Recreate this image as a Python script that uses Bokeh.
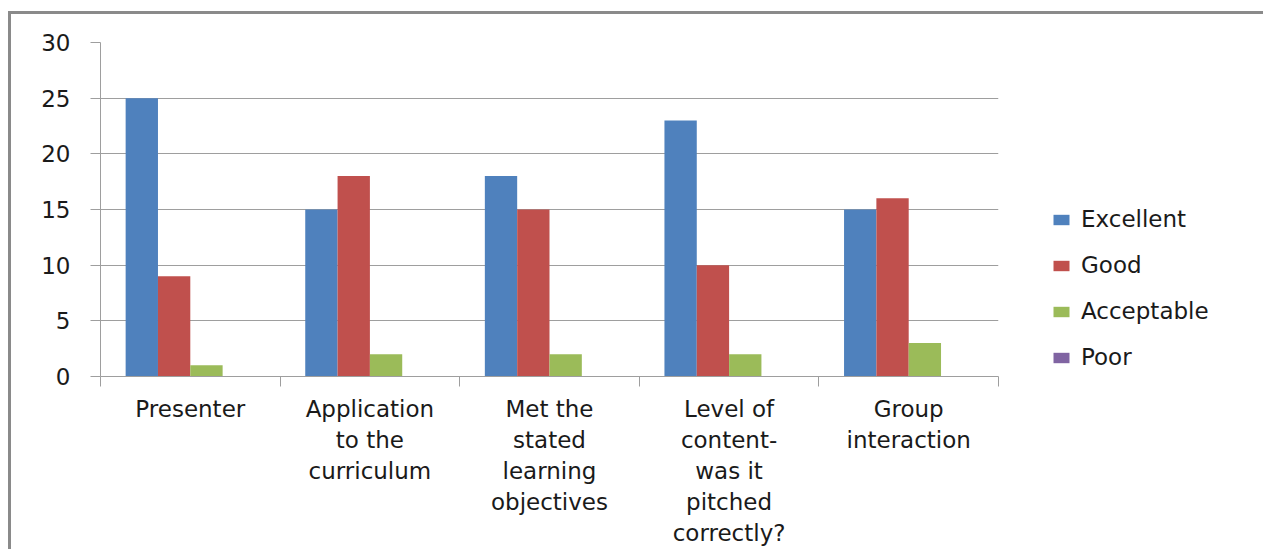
from bokeh.plotting import figure
from bokeh.models import Range1d, FixedTicker, Legend, LegendItem
from bokeh.embed import file_html
from bokeh.resources import INLINE
import numpy as np

# ---- data ----
categories = ["Presenter", "Application to the curriculum",
              "Met the stated learning objectives",
              "Level of content- was it pitched correctly?",
              "Group interaction"]
category_labels = ["Presenter", "Application\nto the\ncurriculum",
                   "Met the\nstated\nlearning\nobjectives",
                   "Level of\ncontent-\nwas it\npitched\ncorrectly?",
                   "Group\ninteraction"]
series_names = ["Excellent", "Good", "Acceptable", "Poor"]
excellent = [25, 15, 18, 23, 15]
good = [9, 18, 15, 10, 16]
acceptable = [1, 2, 2, 2, 3]
poor = [0, 0, 0, 0, 0]
y_ticks = [0, 5, 10, 15, 20, 25, 30]

series_values = [excellent, good, acceptable, poor]
colors = ["#4F81BD", "#C0504D", "#9BBB59", "#8064A2"]
offsets = [-0.27, -0.09, 0.09, 0.27]
bar_w = 0.18

FONT = "DejaVu Sans"
TXT = "#1a1a1a"
GRID = "#9e9e9e"

p = figure(frame_width=898, frame_height=334, output_backend="svg", toolbar_location=None,
           x_range=Range1d(0, len(categories)), y_range=Range1d(0, 30),
           min_border_left=89, min_border_top=28, min_border_bottom=0,
           min_border_right=0)
p.margin = (11, 0, 0, 8)
p.styles = {"border-top": "3px solid #8a8a8a", "border-left": "3px solid #8a8a8a"}
p.outline_line_color = None
p.background_fill_color = "white"
p.border_fill_color = "white"

centers = np.arange(len(categories)) + 0.5
items = []
for name, vals, col, off in zip(series_names, series_values, colors, offsets):
    r = p.vbar(x=centers + off, top=vals, bottom=0, width=bar_w,
               fill_color=col, line_color=None)
    items.append(LegendItem(label=name, renderers=[r]))

# x axis
xa = p.xaxis[0]
xa.ticker = FixedTicker(ticks=list(centers), minor_ticks=list(range(len(categories) + 1)))
xa.major_label_overrides = {float(c): lab for c, lab in zip(centers, category_labels)}
xa.major_tick_out = 0
xa.major_tick_in = 0
xa.minor_tick_out = 10
xa.minor_tick_in = 0
xa.minor_tick_line_color = GRID
xa.axis_line_color = GRID
xa.major_label_text_font = FONT
xa.major_label_text_font_size = "23px"
xa.major_label_text_color = TXT
xa.major_label_text_line_height = 1.2
xa.major_label_standoff = 9

# y axis
ya = p.yaxis[0]
ya.ticker = FixedTicker(ticks=y_ticks)
ya.major_tick_out = 10
ya.major_tick_in = 0
ya.minor_tick_line_color = None
ya.major_tick_line_color = GRID
ya.axis_line_color = GRID
ya.major_label_text_font = FONT
ya.major_label_text_font_size = "23px"
ya.major_label_text_color = TXT
ya.major_label_standoff = 20

p.xgrid.grid_line_color = None
p.ygrid.grid_line_color = GRID
p.ygrid.ticker = FixedTicker(ticks=y_ticks)

legend = Legend(items=items, location=(53, 6))
legend.border_line_color = None
legend.background_fill_alpha = 0
legend.label_text_font = FONT
legend.label_text_font_size = "23px"
legend.label_text_color = TXT
legend.glyph_width = 20
legend.glyph_height = 13
legend.label_height = 22
legend.spacing = 20
legend.label_standoff = 10
legend.padding = 10
legend.margin = 0
p.add_layout(legend, "right")

open("out.html", "w").write(file_html(p, INLINE))
